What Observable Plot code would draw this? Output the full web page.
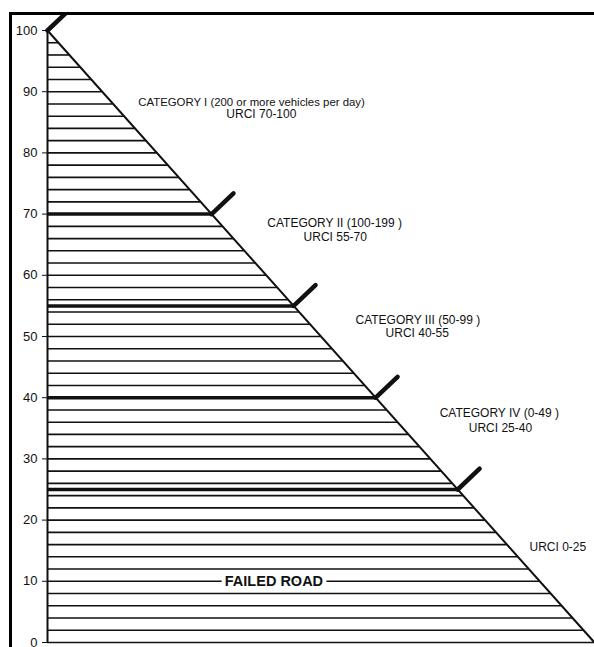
<!DOCTYPE html>
<html><head><meta charset="utf-8">
<script src="https://cdn.jsdelivr.net/npm/d3@7"></script>
<script src="https://cdn.jsdelivr.net/npm/@observablehq/plot@0.6"></script>
<style>
body{margin:0;background:#fff;}
#frame{position:absolute;left:9px;top:12px;width:700px;height:700px;border-left:3px solid #000;border-top:3px solid #000;overflow:hidden;}
#chart{position:absolute;left:-12px;top:-15px;}
</style></head><body>
<div id="frame"><div id="chart"></div></div>
<script>
// URCI scale (y) and hatch levels
const yTicks = [0, 10, 20, 30, 40, 50, 60, 70, 80, 90, 100];
const hatchLevels = [0, 2, 4, 6, 8, 10, 12, 14, 16, 18, 20, 22, 24, 26, 28, 30, 32, 34, 36, 38,
  40, 42, 44, 46, 48, 50, 52, 54, 56, 58, 60, 62, 64, 66, 68, 70, 72, 74, 76, 78,
  80, 82, 84, 86, 88, 90, 92, 94, 96, 98];
const categoryBreaks = [70, 55, 40, 25];
const markerLevels = [100, 70, 55, 40, 25];
const diagonalX = [0, 100];
const diagonalY = [100, 0];

// Annotation lines (text and data-space anchor)
const labelLines = [
  "CATEGORY I (200 or more vehicles per day)", "URCI 70-100",
  "CATEGORY II (100-199 )", "URCI 55-70",
  "CATEGORY III (50-99 )", "URCI 40-55",
  "CATEGORY IV (0-49 )", "URCI 25-40",
  "URCI 0-25"
];
const labelX = [37.3, 39.1, 52.5, 52.6, 67.7, 67.6, 82.6, 82.8, 93.3];
const labelY = [88.2, 86.3, 68.6, 66.2, 52.6, 50.5, 37.4, 35.1, 15.5];
const labelSize = [11.4, 12, 12, 12, 12, 12, 12, 12, 12];

const failedLabels = ["FAILED ROAD"];
const failedX = [41.4];
const failedY = [10];

const ink = "#111";

const chart = Plot.plot({
  width: 594,
  height: 647,
  marginLeft: 47,
  marginRight: 0,
  marginTop: 30,
  marginBottom: 5,
  style: {fontFamily: "'Liberation Sans', Arial, sans-serif", fontSize: "13px", color: ink, background: "transparent", overflow: "visible"},
  x: {domain: [0, 100], axis: null},
  y: {domain: [0, 100], ticks: yTicks.length - 1, tickSize: 5, tickPadding: 5, label: null},
  marks: [
    Plot.ruleY(hatchLevels, {y: d => d, x1: 0, x2: d => 100 - d, stroke: ink, strokeWidth: 1.6}),
    Plot.ruleY(categoryBreaks, {y: d => d, x1: 0, x2: d => 100 - d, stroke: ink, strokeWidth: 3.5}),
    Plot.ruleX([0], {y1: 0, y2: 100, stroke: ink, strokeWidth: 2}),
    Plot.line(diagonalX.map((x, i) => ({x, y: diagonalY[i]})), {x: "x", y: "y", stroke: ink, strokeWidth: 2}),
    Plot.link(markerLevels, {x1: d => 100 - d, y1: d => d, x2: d => 100 - d + 4, y2: d => d + 3.4, stroke: ink, strokeWidth: 4.5, strokeLinecap: "round"}),
    Plot.text(labelLines, {x: (d, i) => labelX[i], y: (d, i) => labelY[i], text: d => d, fontSize: (d, i) => labelSize[i], fill: ink}),
    Plot.text(failedLabels, {x: (d, i) => failedX[i], y: (d, i) => failedY[i], text: d => d, fontSize: 14.5, fontWeight: "bold", fill: "white", stroke: "white", strokeWidth: 8}),
    Plot.text(failedLabels, {x: (d, i) => failedX[i], y: (d, i) => failedY[i], text: d => d, fontSize: 14.5, fontWeight: "bold", fill: ink})
  ]
});
document.getElementById("chart").appendChild(chart);
</script>
</body></html>
